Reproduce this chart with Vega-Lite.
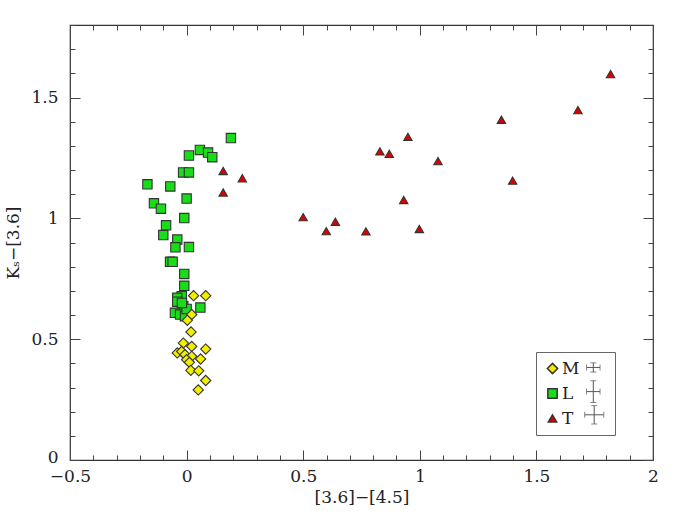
{
  "$schema": "https://vega.github.io/schema/vega-lite/v6.json",
  "width": 583,
  "height": 435,
  "autosize": {"type": "none"},
  "padding": {"left": 70, "top": 25, "right": 41, "bottom": 59},
  "background": "white",
  "config": {
    "view": {"stroke": "#333333", "strokeWidth": 1.2},
    "axis": {
      "labelFont": "DejaVu Serif",
      "labelFontSize": 17,
      "labelColor": "#222222",
      "titleFont": "DejaVu Serif",
      "titleFontSize": 17,
      "titleFontWeight": "normal",
      "titleColor": "#222222",
      "domain": false,
      "grid": false,
      "tickColor": "#444444",
      "tickWidth": 1
    },
    "legend": {
      "labelFont": "DejaVu Serif",
      "labelFontSize": 17,
      "labelColor": "#222222",
      "titleFont": "DejaVu Serif",
      "titleFontSize": 17
    }
  },
  "datasets": {
    "pts": [
      {"cls": "L", "x": 0.19, "y": 1.332},
      {"cls": "L", "x": 0.057, "y": 1.283},
      {"cls": "L", "x": 0.092, "y": 1.272},
      {"cls": "L", "x": 0.11, "y": 1.253},
      {"cls": "L", "x": 0.01, "y": 1.26},
      {"cls": "L", "x": -0.015, "y": 1.19},
      {"cls": "L", "x": 0.01, "y": 1.19},
      {"cls": "L", "x": -0.168, "y": 1.141},
      {"cls": "L", "x": -0.07, "y": 1.132},
      {"cls": "L", "x": 0.0, "y": 1.082},
      {"cls": "L", "x": -0.14, "y": 1.062},
      {"cls": "L", "x": -0.11, "y": 1.04},
      {"cls": "L", "x": -0.01, "y": 1.001},
      {"cls": "L", "x": -0.088, "y": 0.971},
      {"cls": "L", "x": -0.1, "y": 0.931},
      {"cls": "L", "x": -0.04, "y": 0.912},
      {"cls": "L", "x": -0.048, "y": 0.88},
      {"cls": "L", "x": 0.01, "y": 0.881},
      {"cls": "L", "x": -0.071, "y": 0.82},
      {"cls": "L", "x": -0.06, "y": 0.82},
      {"cls": "L", "x": -0.01, "y": 0.77},
      {"cls": "L", "x": -0.01, "y": 0.721},
      {"cls": "L", "x": -0.021, "y": 0.678},
      {"cls": "L", "x": -0.04, "y": 0.671},
      {"cls": "L", "x": -0.04, "y": 0.655},
      {"cls": "L", "x": 0.059, "y": 0.631},
      {"cls": "L", "x": -0.014, "y": 0.636},
      {"cls": "L", "x": -0.05, "y": 0.609},
      {"cls": "L", "x": -0.028, "y": 0.602},
      {"cls": "L", "x": -0.007, "y": 0.595},
      {"cls": "L", "x": 0.0, "y": 0.625},
      {"cls": "L", "x": -0.02, "y": 0.65},
      {"cls": "M", "x": 0.03, "y": 0.68},
      {"cls": "M", "x": 0.082, "y": 0.68},
      {"cls": "M", "x": 0.022, "y": 0.602},
      {"cls": "M", "x": 0.003, "y": 0.578},
      {"cls": "M", "x": 0.019, "y": 0.53},
      {"cls": "M", "x": -0.014, "y": 0.484},
      {"cls": "M", "x": 0.022, "y": 0.47},
      {"cls": "M", "x": 0.082, "y": 0.459},
      {"cls": "M", "x": -0.04, "y": 0.443},
      {"cls": "M", "x": -0.021, "y": 0.449},
      {"cls": "M", "x": -0.007, "y": 0.436},
      {"cls": "M", "x": 0.022, "y": 0.429},
      {"cls": "M", "x": 0.0, "y": 0.415},
      {"cls": "M", "x": 0.06, "y": 0.418},
      {"cls": "M", "x": 0.012, "y": 0.404},
      {"cls": "M", "x": 0.018, "y": 0.371},
      {"cls": "M", "x": 0.052, "y": 0.369},
      {"cls": "M", "x": 0.082, "y": 0.329},
      {"cls": "M", "x": 0.05, "y": 0.29},
      {"cls": "T", "x": 0.157, "y": 1.196},
      {"cls": "T", "x": 0.239, "y": 1.166},
      {"cls": "T", "x": 0.157, "y": 1.107},
      {"cls": "T", "x": 0.5, "y": 1.005},
      {"cls": "T", "x": 0.599, "y": 0.947},
      {"cls": "T", "x": 0.638, "y": 0.986},
      {"cls": "T", "x": 0.769, "y": 0.946},
      {"cls": "T", "x": 0.829, "y": 1.277},
      {"cls": "T", "x": 0.869, "y": 1.267},
      {"cls": "T", "x": 0.949, "y": 1.337},
      {"cls": "T", "x": 0.931, "y": 1.076},
      {"cls": "T", "x": 0.998, "y": 0.956},
      {"cls": "T", "x": 1.078, "y": 1.237},
      {"cls": "T", "x": 1.35, "y": 1.408},
      {"cls": "T", "x": 1.398, "y": 1.156},
      {"cls": "T", "x": 1.678, "y": 1.448},
      {"cls": "T", "x": 1.818, "y": 1.597}
    ],
    "errs": [
      {"cls": "M", "x": 1.744, "y": 0.383, "xlo": 1.715, "xhi": 1.773, "ylo": 0.364, "yhi": 0.402},
      {"cls": "L", "x": 1.744, "y": 0.283, "xlo": 1.715, "xhi": 1.773, "ylo": 0.238, "yhi": 0.328},
      {"cls": "T", "x": 1.748, "y": 0.187, "xlo": 1.707, "xhi": 1.789, "ylo": 0.149, "yhi": 0.225}
    ]
  },
  "resolve": {"axis": {"x": "independent", "y": "independent"}},
  "layer": [
    {
      "data": {"name": "pts"},
      "mark": {"type": "point", "filled": true, "stroke": "#333333", "strokeWidth": 1.1, "opacity": 1},
      "encoding": {
        "x": {
          "field": "x", "type": "quantitative",
          "scale": {"domain": [-0.5, 2], "nice": false, "zero": false},
          "axis": {"orient": "bottom", "values": [-0.5, 0, 0.5, 1, 1.5, 2], "format": "~g", "ticks": false, "labelPadding": 8, "title": "[3.6]−[4.5]", "titlePadding": 5, "labelFlush": false}
        },
        "y": {
          "field": "y", "type": "quantitative",
          "scale": {"domain": [0, 1.8], "nice": false, "zero": false},
          "axis": {"orient": "left", "values": [0, 0.5, 1, 1.5], "format": "~g", "ticks": false, "labelPadding": 12, "title": "Kₛ−[3.6]", "titlePadding": 8, "labelFlush": false,
            "labelOffset": {"condition": {"test": "datum.value == 0", "value": -3}, "value": 0}}
        },
        "shape": {
          "field": "cls", "type": "nominal",
          "scale": {"domain": ["M", "L", "T"], "range": ["diamond", "square", "triangle-up"]},
          "legend": {
            "title": "M", "titleOrient": "right", "titleOpacity": 0, "titlePadding": 9,
            "orient": "none", "legendX": 466, "legendY": 327,
            "padding": 8, "rowPadding": 7, "labelOffset": 1,
            "fillColor": "transparent", "strokeColor": "#666666",
            "encode": {"symbols": {"update": {"stroke": {"value": "#333333"}, "strokeWidth": {"value": 1.1}}}}
          }
        },
        "fill": {
          "field": "cls", "type": "nominal",
          "scale": {"domain": ["M", "L", "T"], "range": ["#f2ee00", "#18dd18", "#dd0000"]},
          "legend": {
            "title": "M", "titleOrient": "right", "titleOpacity": 0, "titlePadding": 9,
            "orient": "none", "legendX": 466, "legendY": 327,
            "padding": 8, "rowPadding": 7, "labelOffset": 1,
            "fillColor": "transparent", "strokeColor": "#666666",
            "encode": {"symbols": {"update": {"stroke": {"value": "#333333"}, "strokeWidth": {"value": 1.1}}}}
          }
        },
        "size": {
          "field": "cls", "type": "nominal",
          "scale": {"domain": ["M", "L", "T"], "range": [105, 70, 125]},
          "legend": {
            "title": "M", "titleOrient": "right", "titleOpacity": 0, "titlePadding": 9,
            "orient": "none", "legendX": 466, "legendY": 327,
            "padding": 8, "rowPadding": 7, "labelOffset": 1,
            "fillColor": "transparent", "strokeColor": "#666666",
            "encode": {"symbols": {"update": {"stroke": {"value": "#333333"}, "strokeWidth": {"value": 1.1}}}}
          }
        }
      }
    },
    {
      "data": {"name": "errs"},
      "mark": {"type": "rule", "color": "#555555", "strokeWidth": 1},
      "encoding": {
        "x": {
          "field": "xlo", "type": "quantitative",
          "scale": {"domain": [-0.5, 2], "nice": false, "zero": false},
          "axis": {"orient": "bottom", "title": null, "labels": false,
            "values": [-0.5, -0.4, -0.3, -0.2, -0.1, 0, 0.1, 0.2, 0.3, 0.4, 0.5, 0.6, 0.7, 0.8, 0.9, 1, 1.1, 1.2, 1.3, 1.4, 1.5, 1.6, 1.7, 1.8, 1.9, 2],
            "tickSize": {"condition": {"test": "abs(datum.value * 2 - round(datum.value * 2)) < 0.001", "value": -10}, "value": -5}}
        },
        "x2": {"field": "xhi"},
        "y": {
          "field": "y", "type": "quantitative",
          "scale": {"domain": [0, 1.8], "nice": false, "zero": false},
          "axis": {"orient": "left", "title": null, "labels": false,
            "values": [0, 0.1, 0.2, 0.3, 0.4, 0.5, 0.6, 0.7, 0.8, 0.9, 1, 1.1, 1.2, 1.3, 1.4, 1.5, 1.6, 1.7, 1.8],
            "tickSize": {"condition": {"test": "abs(datum.value * 2 - round(datum.value * 2)) < 0.001", "value": -10}, "value": -5}}
        }
      }
    },
    {
      "data": {"name": "errs"},
      "mark": {"type": "rule", "color": "#555555", "strokeWidth": 1},
      "encoding": {
        "x": {
          "field": "x", "type": "quantitative",
          "scale": {"domain": [-0.5, 2], "nice": false, "zero": false},
          "axis": {"orient": "top", "title": null, "labels": false,
            "values": [-0.5, -0.4, -0.3, -0.2, -0.1, 0, 0.1, 0.2, 0.3, 0.4, 0.5, 0.6, 0.7, 0.8, 0.9, 1, 1.1, 1.2, 1.3, 1.4, 1.5, 1.6, 1.7, 1.8, 1.9, 2],
            "tickSize": {"condition": {"test": "abs(datum.value * 2 - round(datum.value * 2)) < 0.001", "value": -10}, "value": -5}}
        },
        "y": {
          "field": "ylo", "type": "quantitative",
          "scale": {"domain": [0, 1.8], "nice": false, "zero": false},
          "axis": {"orient": "right", "title": null, "labels": false,
            "values": [0, 0.1, 0.2, 0.3, 0.4, 0.5, 0.6, 0.7, 0.8, 0.9, 1, 1.1, 1.2, 1.3, 1.4, 1.5, 1.6, 1.7, 1.8],
            "tickSize": {"condition": {"test": "abs(datum.value * 2 - round(datum.value * 2)) < 0.001", "value": -10}, "value": -5}}
        },
        "y2": {"field": "yhi"}
      }
    },
    {
      "data": {"name": "errs"},
      "transform": [{"fold": ["xlo", "xhi"], "as": ["end", "xe"]}],
      "mark": {"type": "tick", "orient": "vertical", "color": "#555555", "thickness": 1, "size": 6},
      "encoding": {
        "x": {"field": "xe", "type": "quantitative", "scale": {"domain": [-0.5, 2], "nice": false, "zero": false}, "axis": null},
        "y": {"field": "y", "type": "quantitative", "scale": {"domain": [0, 1.8], "nice": false, "zero": false}, "axis": null}
      }
    },
    {
      "data": {"name": "errs"},
      "transform": [{"fold": ["ylo", "yhi"], "as": ["end", "ye"]}],
      "mark": {"type": "tick", "orient": "horizontal", "color": "#555555", "thickness": 1, "size": 6},
      "encoding": {
        "x": {"field": "x", "type": "quantitative", "scale": {"domain": [-0.5, 2], "nice": false, "zero": false}, "axis": null},
        "y": {"field": "ye", "type": "quantitative", "scale": {"domain": [0, 1.8], "nice": false, "zero": false}, "axis": null}
      }
    }
  ]
}
